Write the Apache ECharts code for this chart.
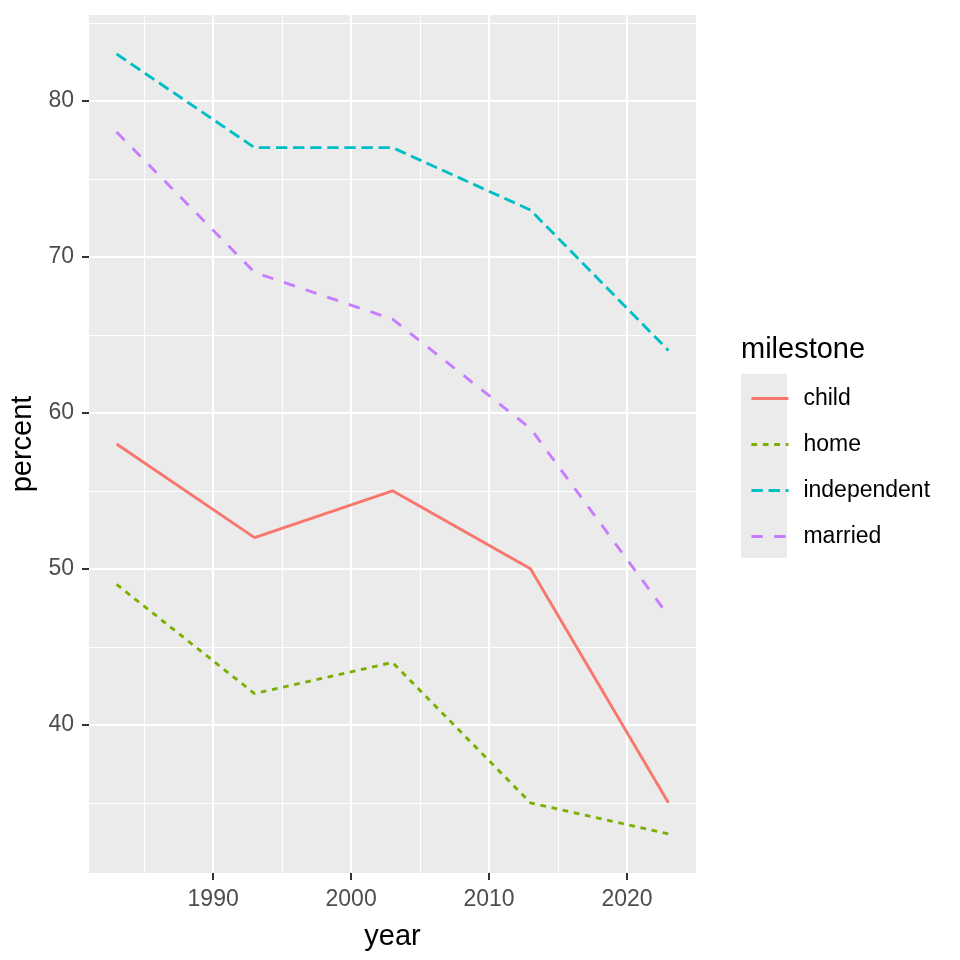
<!DOCTYPE html>
<html>
<head>
<meta charset="utf-8">
<script src="https://cdn.jsdelivr.net/npm/echarts@6/dist/echarts.min.js"></script>
<style>
  html, body { margin: 0; padding: 0; background: #fff; }
  #main { width: 960px; height: 960px; }
</style>
</head>
<body>
<div id="main"></div>
<script>
// ---------------- data ----------------
let years = [1983, 1993, 2003, 2013, 2023]
let child = [58, 52, 55, 50, 35]
let home = [49, 42, 44, 35, 33]
let independent = [83, 77, 77, 73, 64]
let married = [78, 69, 66, 59, 47]

let xMajor = [1990, 2000, 2010, 2020]
let xMinor = [1985, 1995, 2005, 2015]
let yMajor = [40, 50, 60, 70, 80]
let yMinor = [35, 45, 55, 65, 75, 85]

// ---------------- chart ----------------
function lineChart() {
  let myChart = echarts.init(document.querySelector('#main'))

  const lw = 2.85
  const grid = { left: 89, right: 264, top: 15, bottom: 87 }

  function pairs(vals) {
    return years.map((y, i) => [y, vals[i]])
  }

  function makeSeries(name, vals, color, dash) {
    return {
      name: name,
      type: 'line',
      data: pairs(vals),
      symbol: 'none',
      silent: true,
      animation: false,
      lineStyle: { color: color, width: lw, type: dash, cap: 'butt' },
      itemStyle: { color: color }
    }
  }

  // 主网格线
  function majorAxis(values, extra) {
    return Object.assign({
      type: 'value',
      axisLine: { show: false },
      axisTick: { show: true, customValues: values, length: 7, lineStyle: { color: '#333333', width: 2 } },
      splitLine: { show: true, lineStyle: { color: '#FFFFFF', width: 2.2 } }
    }, extra)
  }

  // 次网格线
  function minorAxis(values, extra) {
    return Object.assign({
      type: 'value',
      axisLine: { show: false },
      axisTick: { show: false, customValues: values },
      axisLabel: { show: false, customValues: values },
      splitLine: { show: true, lineStyle: { color: '#FFFFFF', width: 1.1 } }
    }, extra)
  }

  let labelStyle = { color: '#4D4D4D', fontSize: 23, fontFamily: 'Liberation Sans' }
  let nameStyle = { fontSize: 29, color: '#000', fontFamily: 'Liberation Sans' }

  let option = {
    animation: false,
    grid: Object.assign({ show: true, backgroundColor: '#EBEBEB', borderWidth: 0 }, grid),
    title: {
      text: 'milestone',
      left: 736,
      top: 330,
      textStyle: { fontSize: 29, fontWeight: 'normal', color: '#000', fontFamily: 'Liberation Sans' }
    },
    graphic: [{
      type: 'rect',
      left: 741,
      top: 374,
      shape: { width: 46, height: 184 },
      style: { fill: '#EBEBEB' },
      z: -1
    }],
    legend: {
      orient: 'vertical',
      left: 745,
      top: 382,
      itemWidth: 37,
      itemHeight: 14,
      itemGap: 23,
      itemStyle: { color: 'rgba(0,0,0,0)', borderWidth: 0, opacity: 0 },
      lineStyle: { width: lw },
      textStyle: { fontSize: 23, color: '#000', fontFamily: 'Liberation Sans', padding: [0, 0, 0, 10] },
      data: ['child', 'home', 'independent', 'married']
    },
    xAxis: [
      minorAxis(xMinor, { min: 1981, max: 2025, position: 'top' }),
      majorAxis(xMajor, {
        min: 1981, max: 2025, position: 'bottom',
        name: 'year', nameLocation: 'middle', nameGap: 49,
        nameTextStyle: nameStyle,
        axisLabel: Object.assign({ customValues: xMajor, margin: 15, formatter: v => String(v) }, labelStyle)
      })
    ],
    yAxis: [
      minorAxis(yMinor, { min: 30.5, max: 85.5, position: 'right' }),
      majorAxis(yMajor, {
        min: 30.5, max: 85.5, position: 'left',
        name: 'percent', nameLocation: 'middle', nameGap: 46,
        nameTextStyle: nameStyle,
        axisLabel: Object.assign({ customValues: yMajor, margin: 15 }, labelStyle)
      })
    ],
    series: [
      makeSeries('child', child, '#F8766D', 'solid'),
      makeSeries('home', home, '#7CAE00', [5.7, 5.7]),
      makeSeries('independent', independent, '#00BFC4', [11.4, 5.7]),
      makeSeries('married', married, '#C77CFF', [11.4, 11.4])
    ].map(s => Object.assign(s, { xAxisIndex: 1, yAxisIndex: 1 }))
  }
  myChart.setOption(option)
}

lineChart()
</script>
</body>
</html>
